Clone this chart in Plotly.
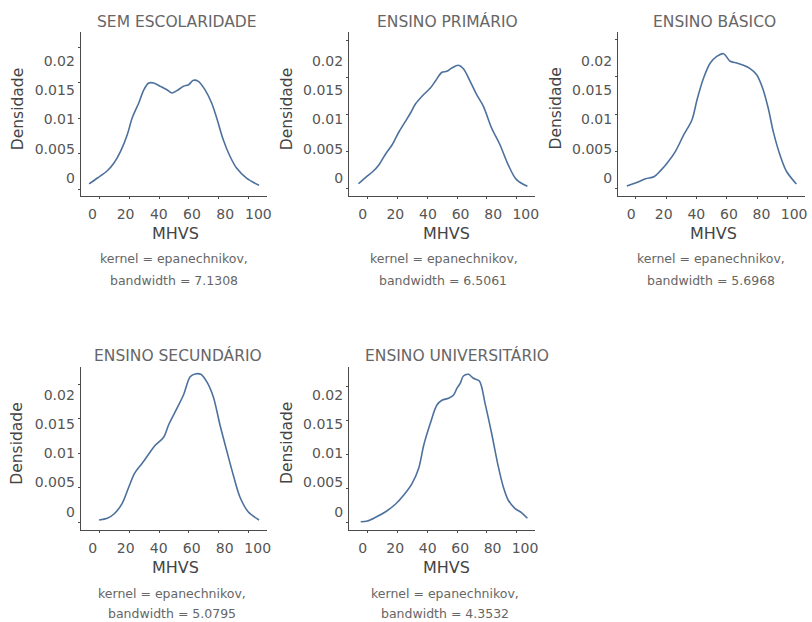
import plotly.graph_objects as go

W, H = 812, 622

# ---------------- data ----------------
titles = ["SEM ESCOLARIDADE", "ENSINO PRIMÁRIO", "ENSINO BÁSICO",
          "ENSINO SECUNDÁRIO", "ENSINO UNIVERSITÁRIO"]
bandwidths = ["7.1308", "6.5061", "5.6968", "5.0795", "4.3532"]
kernel_name = "epanechnikov"
x_title = "MHVS"
y_title = "Densidade"
x_tick_vals = [0, 20, 40, 60, 80, 100]
x_tick_text = ["0", "20", "40", "60", "80", "100"]
y_tick_vals = [0, 0.005, 0.01, 0.015, 0.02]
y_tick_text = ["0", "0.005", "0.01", "0.015", "0.02"]

sem_x = [-6.9, -1.3, 5.3, 9.8, 14.2, 18.7, 22.0, 26.4, 29.8, 33.1, 36.4, 40.9, 45.3,
         48.7, 52.0, 56.4, 59.8, 63.1, 66.4, 70.9, 75.3, 78.7, 83.1, 87.6, 92.0, 98.7, 107.1]
sem_y = [0.00071, 0.00155, 0.00258, 0.00367, 0.00532, 0.00767, 0.01002, 0.01214, 0.0140,
         0.01496, 0.01496, 0.01449, 0.0140, 0.01355, 0.01388, 0.01449, 0.01472, 0.01534,
         0.0152, 0.0140, 0.01214, 0.01002, 0.00696, 0.00462, 0.00296, 0.00155, 0.00052]

pri_x = [-6.2, -1.3, 3.1, 7.6, 12.0, 16.4, 20.9, 25.3, 28.7, 32.0, 36.4, 42.0, 45.3,
         49.8, 53.1, 56.4, 60.9, 64.2, 68.7, 73.1, 77.6, 83.1, 88.7, 94.2, 99.8, 107.1]
pri_y = [0.00058, 0.00145, 0.00217, 0.00317, 0.00462, 0.00588, 0.00761, 0.00906, 0.01019,
         0.01141, 0.01246, 0.01359, 0.0145, 0.01572, 0.01585, 0.0163, 0.01667, 0.01621,
         0.0145, 0.01268, 0.0111, 0.00815, 0.00588, 0.00317, 0.00113, 0.00023]

bas_x = [-5.9, 1.0, 6.5, 12.0, 16.3, 20.7, 26.1, 31.6, 37.0, 40.3, 44.6, 49.0, 53.3,
         57.7, 62.1, 66.4, 70.8, 75.2, 79.5, 83.4, 87.1, 90.4, 94.8, 99.1, 105.6]
bas_y = [0.00036, 0.00086, 0.00134, 0.00161, 0.00242, 0.00345, 0.00502, 0.00725, 0.00926,
         0.01195, 0.01486, 0.01687, 0.01777, 0.01812, 0.0171, 0.01687, 0.01656, 0.01611,
         0.0153, 0.01352, 0.01083, 0.0077, 0.00456, 0.00234, 0.00063]

sec_x = [-0.2, 5.3, 9.8, 15.3, 19.8, 23.6, 28.7, 34.2, 37.6, 43.1, 46.4, 50.9, 56.4,
         60.9, 64.2, 68.0, 72.0, 76.4, 80.9, 85.3, 89.8, 94.2, 99.8, 107.1]
sec_y = [0.00033, 0.00058, 0.0012, 0.00275, 0.00516, 0.0071, 0.00855, 0.01023, 0.0112,
         0.01232, 0.0141, 0.01603, 0.01845, 0.0211, 0.02149, 0.02145, 0.02038, 0.0182,
         0.0141, 0.01048, 0.00686, 0.00371, 0.00154, 0.00033]

uni_x = [-4.7, -0.2, 5.3, 12.0, 18.7, 24.2, 29.8, 34.2, 37.6, 42.0, 46.4, 49.8, 54.2,
         57.6, 59.8, 62.0, 64.2, 67.6, 70.9, 74.9, 78.7, 83.1, 87.6, 90.9, 94.2, 98.7,
         103.1, 107.1]
uni_y = [0.00009, 0.00019, 0.00074, 0.00156, 0.0027, 0.00403, 0.00575, 0.00796, 0.0114,
         0.0146, 0.0173, 0.018, 0.01829, 0.01878, 0.01976, 0.0205, 0.02158, 0.02183,
         0.02124, 0.02084, 0.01755, 0.01313, 0.0082, 0.00525, 0.00329, 0.00206, 0.00142,
         0.00059]

series_x = [sem_x, pri_x, bas_x, sec_x, uni_x]
series_y = [sem_y, pri_y, bas_y, sec_y, uni_y]

# ---------------- geometry / style (pixels) ----------------
# plot box: left, right, bottom, top ; tick mapping: x0 px, px per unit ; y0 px, px per unit
# label mapping: x label px for 0 and 100 ; y label px for 0 and 0.02
panels = [
    dict(xl=81.3, xr=268.7, yb=196.3, yt=32.0, tx0=100.0, tsx=1.50, ty0=189.0, tsy=7085,
         lx0=93.0, lx1=260.0, ly0=178.0, ly1=61.0,
         title=(178.3, 21.7), xt=(176.7, 233.3), yti=(18.3, 109.0), n1=(175.0, 259.0), n2=(175.0, 280.3)),
    dict(xl=351.3, xr=538.7, yb=196.3, yt=32.0, tx0=370.0, tsx=1.50, ty0=188.0, tsy=7360,
         lx0=365.0, lx1=529.0, ly0=178.0, ly1=61.0,
         title=(450.5, 21.7), xt=(448.8, 233.3), yti=(289.0, 109.0), n1=(447.2, 259.0), n2=(446.0, 280.3)),
    dict(xl=622.0, xr=809.7, yb=196.3, yt=32.0, tx0=639.7, tsx=1.53, ty0=188.7, tsy=7450,
         lx0=635.0, lx1=799.0, ly0=178.0, ly1=61.0,
         title=(718.8, 21.7), xt=(718.3, 233.3), yti=(559.0, 109.0), n1=(715.3, 259.0), n2=(715.3, 280.3)),
    dict(xl=81.3, xr=268.7, yb=530.0, yt=367.3, tx0=100.0, tsx=1.50, ty0=522.3, tsy=6900,
         lx0=93.3, lx1=259.3, ly0=511.7, ly1=395.0,
         title=(178.7, 355.8), xt=(176.7, 567.5), yti=(17.5, 443.3), n1=(173.3, 593.5), n2=(173.3, 613.0)),
    dict(xl=351.3, xr=538.7, yb=530.0, yt=367.3, tx0=370.0, tsx=1.50, ty0=522.3, tsy=6780,
         lx0=365.0, lx1=528.3, ly0=511.7, ly1=395.0,
         title=(460.0, 355.8), xt=(448.8, 567.5), yti=(289.5, 443.3), n1=(447.5, 593.5), n2=(447.5, 613.0)),
]

LINE_COLOR = "#4d719d"
AXIS_COLOR = "#4a4a4a"
FONT = "DejaVu Sans"


def fx(px):
    return px / W


def fy(py):
    return 1 - py / H


fig = go.Figure()
layout = dict(
    width=W, height=H, margin=dict(l=0, r=0, t=0, b=0),
    paper_bgcolor="white", plot_bgcolor="white", showlegend=False,
    font=dict(family=FONT, color="#555555"),
)
annotations = []

n = len(panels)
for i, p in enumerate(panels):
    k = i + 1
    kl = i + 1 + n  # label axes index
    xs = "" if k == 1 else str(k)
    ys = "" if k == 1 else str(k)

    # main axes (tick marks, data scale)
    x_rng = [(p["xl"] - p["tx0"]) / p["tsx"], (p["xr"] - p["tx0"]) / p["tsx"]]
    y_rng = [(p["ty0"] - p["yb"]) / p["tsy"], (p["ty0"] - p["yt"]) / p["tsy"]]
    layout["xaxis" + xs] = dict(
        domain=[fx(p["xl"]), fx(p["xr"])], anchor="y" + ys, range=x_rng,
        tickvals=x_tick_vals, showticklabels=False, ticks="outside", ticklen=2,
        tickcolor=AXIS_COLOR, tickwidth=1, showline=True, linecolor=AXIS_COLOR,
        linewidth=1.3, showgrid=False, zeroline=False, fixedrange=True)
    layout["yaxis" + ys] = dict(
        domain=[fy(p["yb"]), fy(p["yt"])], anchor="x" + xs, range=y_rng,
        tickvals=y_tick_vals, showticklabels=False, ticks="outside", ticklen=2,
        tickcolor=AXIS_COLOR, tickwidth=1, showline=True, linecolor=AXIS_COLOR,
        linewidth=1.3, showgrid=False, zeroline=False, fixedrange=True)

    # label axes (overlaying, carry the tick labels)
    lsx = (p["lx1"] - p["lx0"]) / 100.0
    lsy = (p["ly0"] - p["ly1"]) / 0.02
    lx_rng = [(p["xl"] - p["lx0"]) / lsx, (p["xr"] - p["lx0"]) / lsx]
    ly_rng = [(p["ly0"] - p["yb"]) / lsy, (p["ly0"] - p["yt"]) / lsy]
    layout["xaxis" + str(kl)] = dict(
        overlaying="x" + xs, anchor="y" + ys, side="bottom", range=lx_rng,
        tickvals=x_tick_vals, ticktext=x_tick_text, ticks="", showline=False,
        showgrid=False, zeroline=False, ticklabelstandoff=8, fixedrange=True,
        tickfont=dict(family=FONT, size=14, color="#555555"))
    layout["yaxis" + str(kl)] = dict(
        overlaying="y" + ys, anchor="x" + xs, side="left", range=ly_rng,
        tickvals=y_tick_vals, ticktext=y_tick_text, ticks="", showline=False,
        showgrid=False, zeroline=False, ticklabelstandoff=5, fixedrange=True,
        tickfont=dict(family=FONT, size=14, color="#555555"))

    # data curve
    fig.add_trace(go.Scatter(
        x=series_x[i], y=series_y[i], mode="lines", xaxis="x" + xs, yaxis="y" + ys,
        line=dict(color=LINE_COLOR, width=1.6, shape="spline", smoothing=0.9),
        hoverinfo="x+y"))
    # empty traces so the label axes are part of subplots
    fig.add_trace(go.Scatter(x=[None], y=[None], xaxis="x" + str(kl), yaxis="y" + ys,
                             mode="markers", hoverinfo="skip", showlegend=False))
    fig.add_trace(go.Scatter(x=[None], y=[None], xaxis="x" + xs, yaxis="y" + str(kl),
                             mode="markers", hoverinfo="skip", showlegend=False))

    def ann(text, pos, size, color, angle=0):
        annotations.append(dict(
            text=text, x=fx(pos[0]), y=fy(pos[1]), xref="paper", yref="paper",
            xanchor="center", yanchor="middle", showarrow=False, textangle=angle,
            font=dict(family=FONT, size=size, color=color)))

    ann(titles[i], p["title"], 15.5, "#666666")
    ann(x_title, p["xt"], 16, "#444444")
    ann(y_title, p["yti"], 15.5, "#444444", angle=-90)
    ann("kernel = " + kernel_name + ",", p["n1"], 12.5, "#666666")
    ann("bandwidth = " + bandwidths[i], p["n2"], 12.5, "#666666")

layout["annotations"] = annotations
fig.update_layout(**layout)
fig.write_html("out.html")
